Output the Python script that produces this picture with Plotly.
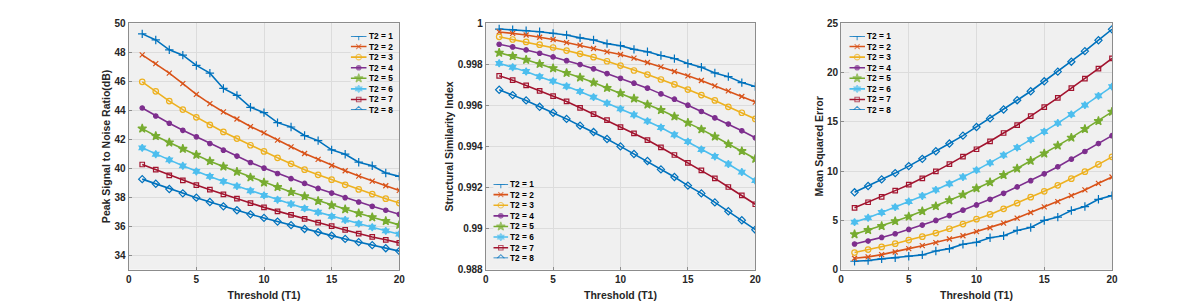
import plotly.graph_objects as go

# ---------------- data ----------------
t1 = [1, 2, 3, 4, 5, 6, 7, 8, 9, 10, 11, 12, 13, 14, 15, 16, 17, 18, 19, 20]
t2_labels = ["T2 = 1", "T2 = 2", "T2 = 3", "T2 = 4", "T2 = 5", "T2 = 6", "T2 = 7", "T2 = 8"]

psnr_1 = [49.27, 48.85, 48.17, 47.80, 47.09, 46.56, 45.50, 45.02, 44.20, 43.83, 43.14, 42.84, 42.25, 41.90, 41.26, 40.96, 40.41, 40.16, 39.66, 39.43]
psnr_2 = [47.82, 47.22, 46.56, 45.83, 45.09, 44.45, 43.88, 43.39, 42.87, 42.43, 41.93, 41.47, 41.01, 40.60, 40.18, 39.82, 39.45, 39.10, 38.78, 38.46]
psnr_3 = [45.96, 45.30, 44.63, 44.04, 43.51, 42.98, 42.50, 42.04, 41.58, 41.15, 40.71, 40.30, 39.89, 39.54, 39.20, 38.85, 38.53, 38.21, 37.89, 37.59]
psnr_4 = [44.15, 43.60, 43.10, 42.61, 42.16, 41.70, 41.24, 40.83, 40.39, 40.00, 39.63, 39.27, 38.94, 38.60, 38.28, 37.96, 37.66, 37.36, 37.09, 36.81]
psnr_5 = [42.73, 42.22, 41.77, 41.33, 40.92, 40.48, 40.11, 39.75, 39.36, 39.01, 38.69, 38.35, 38.05, 37.73, 37.43, 37.16, 36.88, 36.61, 36.35, 36.08]
psnr_6 = [41.40, 40.96, 40.57, 40.16, 39.77, 39.43, 39.08, 38.76, 38.44, 38.12, 37.82, 37.52, 37.22, 36.95, 36.67, 36.42, 36.17, 35.92, 35.67, 35.44]
psnr_7 = [40.25, 39.89, 39.50, 39.15, 38.83, 38.51, 38.19, 37.89, 37.59, 37.29, 37.02, 36.77, 36.49, 36.24, 35.99, 35.73, 35.48, 35.25, 35.05, 34.84]
psnr_8 = [39.24, 38.92, 38.56, 38.26, 37.96, 37.66, 37.36, 37.09, 36.81, 36.56, 36.31, 36.06, 35.80, 35.57, 35.34, 35.11, 34.89, 34.68, 34.47, 34.27]

ssim_1 = [0.99972, 0.99969, 0.99964, 0.99959, 0.99951, 0.99943, 0.99929, 0.99919, 0.99901, 0.99891, 0.99873, 0.99861, 0.99843, 0.99828, 0.99804, 0.99786, 0.99758, 0.99740, 0.99711, 0.99692]
ssim_2 = [0.99958, 0.99951, 0.99943, 0.99932, 0.99921, 0.99906, 0.99893, 0.99877, 0.99861, 0.99848, 0.99830, 0.99809, 0.99788, 0.99765, 0.99744, 0.99721, 0.99695, 0.99671, 0.99643, 0.99616]
ssim_3 = [0.99934, 0.99921, 0.99909, 0.99896, 0.99882, 0.99867, 0.99851, 0.99835, 0.99815, 0.99794, 0.99770, 0.99750, 0.99726, 0.99702, 0.99677, 0.99650, 0.99624, 0.99593, 0.99564, 0.99534]
ssim_4 = [0.99898, 0.99885, 0.99870, 0.99854, 0.99836, 0.99818, 0.99799, 0.99778, 0.99755, 0.99732, 0.99708, 0.99684, 0.99656, 0.99630, 0.99601, 0.99570, 0.99539, 0.99509, 0.99476, 0.99442]
ssim_5 = [0.99856, 0.99840, 0.99822, 0.99802, 0.99781, 0.99758, 0.99736, 0.99711, 0.99685, 0.99659, 0.99633, 0.99604, 0.99577, 0.99546, 0.99515, 0.99483, 0.99448, 0.99411, 0.99377, 0.99340]
ssim_6 = [0.99805, 0.99786, 0.99765, 0.99740, 0.99718, 0.99693, 0.99668, 0.99640, 0.99611, 0.99583, 0.99554, 0.99523, 0.99492, 0.99457, 0.99423, 0.99385, 0.99351, 0.99314, 0.99275, 0.99233]
ssim_7 = [0.99744, 0.99723, 0.99697, 0.99671, 0.99645, 0.99619, 0.99588, 0.99557, 0.99528, 0.99494, 0.99463, 0.99431, 0.99395, 0.99358, 0.99320, 0.99283, 0.99244, 0.99202, 0.99161, 0.99118]
ssim_8 = [0.99676, 0.99650, 0.99624, 0.99593, 0.99564, 0.99534, 0.99501, 0.99470, 0.99436, 0.99400, 0.99363, 0.99329, 0.99288, 0.99251, 0.99209, 0.99171, 0.99127, 0.99084, 0.99040, 0.98994]

mse_1 = [0.84, 0.91, 1.08, 1.18, 1.35, 1.48, 1.88, 2.12, 2.56, 2.76, 3.23, 3.43, 3.97, 4.27, 4.98, 5.32, 5.99, 6.39, 7.13, 7.50]
mse_2 = [1.14, 1.28, 1.51, 1.78, 2.12, 2.42, 2.73, 3.10, 3.43, 3.84, 4.24, 4.71, 5.22, 5.79, 6.36, 6.90, 7.50, 8.08, 8.75, 9.39]
mse_3 = [1.72, 2.02, 2.29, 2.62, 2.99, 3.33, 3.70, 4.14, 4.61, 5.11, 5.59, 6.16, 6.73, 7.34, 7.94, 8.55, 9.22, 9.93, 10.67, 11.44]
mse_4 = [2.59, 2.89, 3.26, 3.63, 4.07, 4.51, 4.98, 5.48, 6.02, 6.56, 7.13, 7.74, 8.38, 9.02, 9.72, 10.43, 11.20, 11.98, 12.79, 13.59]
mse_5 = [3.57, 4.00, 4.41, 4.91, 5.38, 5.92, 6.43, 7.03, 7.60, 8.24, 8.85, 9.59, 10.26, 11.04, 11.78, 12.58, 13.39, 14.27, 15.07, 16.01]
mse_6 = [4.81, 5.25, 5.79, 6.33, 6.90, 7.47, 8.08, 8.71, 9.39, 10.09, 10.83, 11.61, 12.38, 13.19, 14.00, 14.87, 15.75, 16.69, 17.63, 18.57]
mse_7 = [6.26, 6.83, 7.37, 8.01, 8.61, 9.25, 9.96, 10.70, 11.47, 12.21, 13.02, 13.86, 14.67, 15.58, 16.49, 17.43, 18.41, 19.38, 20.39, 21.43]
mse_8 = [7.84, 8.48, 9.15, 9.79, 10.50, 11.24, 12.01, 12.79, 13.59, 14.47, 15.34, 16.25, 17.19, 18.10, 19.11, 20.09, 21.10, 22.17, 23.28, 24.39]

psnr_ticks = [34, 36, 38, 40, 42, 44, 46, 48, 50]
ssim_ticks = [0.988, 0.990, 0.992, 0.994, 0.996, 0.998, 1.0]
ssim_tick_text = ["0.988", "0.99", "0.992", "0.994", "0.996", "0.998", "1"]
mse_ticks = [0, 5, 10, 15, 20, 25]
x_ticks = [0, 5, 10, 15, 20]

# ---------------- styling ----------------
colors = ["#0072BD", "#D95319", "#EDB120", "#7E2F8E", "#77AC30", "#4DBEEE", "#A2142F", "#0072BD"]
symbols = ["cross-thin-open", "x-thin-open", "circle-open", "circle", "star", "hexagram", "square-open", "diamond-open"]
msizes = [6, 5, 5.5, 4.5, 6.5, 5.5, 4.5, 5.5]

W, H = 1196, 304
FONT = "Liberation Sans, Arial, sans-serif"
TXT = "#262626"


def px_x(a, b):
    return [a / W, b / W]


def px_y(top, bottom):
    return [1 - bottom / H, 1 - top / H]


psnr = [psnr_1, psnr_2, psnr_3, psnr_4, psnr_5, psnr_6, psnr_7, psnr_8]
ssim = [ssim_1, ssim_2, ssim_3, ssim_4, ssim_5, ssim_6, ssim_7, ssim_8]
mse = [mse_1, mse_2, mse_3, mse_4, mse_5, mse_6, mse_7, mse_8]

fig = go.Figure()

panels = [("x", "y", psnr), ("x2", "y2", ssim), ("x3", "y3", mse)]
for xa, ya, series in panels:
    for i, vals in enumerate(series):
        fig.add_trace(go.Scatter(
            x=t1, y=vals, xaxis=xa, yaxis=ya, mode="lines+markers",
            name=t2_labels[i], showlegend=False,
            line=dict(color=colors[i], width=1.6),
            marker=dict(symbol=symbols[i], size=msizes[i], color=colors[i],
                        line=dict(color=colors[i], width=1.2)),
        ))

# compact MATLAB-like legends drawn on small auxiliary axes (one row per series)
legend_axes = [("x4", "y4"), ("x5", "y5"), ("x6", "y6")]
rows = list(range(1, len(t2_labels) + 1))
annotations = []
for xa, ya in legend_axes:
    for i, lab in enumerate(t2_labels):
        fig.add_trace(go.Scatter(
            x=[0, 0.5, 1], y=[rows[i]] * 3, xaxis=xa, yaxis=ya, mode="lines+markers",
            showlegend=False, hoverinfo="skip",
            line=dict(color=colors[i], width=1.6),
            marker=dict(symbol=symbols[i], size=[0, msizes[i], 0], color=colors[i],
                        line=dict(color=colors[i], width=1.1)),
        ))
        annotations.append(dict(
            x=1, y=rows[i], xref=xa, yref=ya, text="<b>%s</b>" % lab, showarrow=False,
            xanchor="left", yanchor="middle", xshift=0,
            font=dict(family=FONT, size=8.3, color="#000000"),
        ))

axis_common = dict(
    showline=True, mirror=True, linecolor="#8C8C8C", linewidth=1,
    ticks="inside", ticklen=3, tickcolor="#8C8C8C", tickwidth=1,
    showgrid=True, gridcolor="#DCDCDC", gridwidth=1, zeroline=False,
    tickfont=dict(family=FONT, size=10, color=TXT),
    automargin=False,
)

xtitle = dict(text="<b>Threshold (T1)</b>", font=dict(family=FONT, size=10.5, color=TXT), standoff=8)


def ytitle(text):
    return dict(text="<b>%s</b>" % text, font=dict(family=FONT, size=10.5, color=TXT), standoff=1)


layout = dict(
    width=W, height=H, margin=dict(l=0, r=0, t=0, b=0),
    paper_bgcolor="white", plot_bgcolor="#F0F0F0",
    font=dict(family=FONT, color=TXT),
    showlegend=False,
    annotations=annotations,
    xaxis=dict(domain=px_x(128.7, 399.3), range=[0, 20], tickvals=x_ticks,
               ticktext=["<b>%d</b>" % v for v in x_ticks], title=xtitle, anchor="y", **axis_common),
    yaxis=dict(domain=px_y(23.3, 269.5), range=[33, 50], tickvals=psnr_ticks,
               ticktext=["<b>%d</b>" % v for v in psnr_ticks], anchor="x",
               title=ytitle("Peak Signal to Noise Ratio(dB)"), **axis_common),
    xaxis2=dict(domain=px_x(485.7, 755.3), range=[0, 20], tickvals=x_ticks,
                ticktext=["<b>%d</b>" % v for v in x_ticks], title=xtitle, anchor="y2", **axis_common),
    yaxis2=dict(domain=px_y(23.3, 269.5), range=[0.988, 1.0], tickvals=ssim_ticks,
                ticktext=["<b>%s</b>" % v for v in ssim_tick_text], anchor="x2",
                title=ytitle("Structural Similarity Index"), **axis_common),
    xaxis3=dict(domain=px_x(841.0, 1112.0), range=[0, 20], tickvals=x_ticks,
                ticktext=["<b>%d</b>" % v for v in x_ticks], title=xtitle, anchor="y3", **axis_common),
    yaxis3=dict(domain=px_y(23.3, 269.5), range=[0, 25], tickvals=mse_ticks,
                ticktext=["<b>%d</b>" % v for v in mse_ticks], anchor="x3",
                title=ytitle("Mean Squared Error"), **axis_common),
)

hidden = dict(visible=False, showgrid=False, zeroline=False, fixedrange=True)
leg_boxes = [((350.7, 366.7), (36.0, 110.0)), ((493.3, 508.3), (184.0, 258.3)), ((849.3, 865.0), (36.0, 110.0))]
for k, ((xa0, xa1), (ya0, ya1)) in enumerate(leg_boxes):
    n = k + 4
    layout["xaxis%d" % n] = dict(domain=px_x(xa0, xa1), range=[0, 1], anchor="y%d" % n, **hidden)
    layout["yaxis%d" % n] = dict(domain=px_y(ya0, ya1), range=[len(t2_labels), 1], anchor="x%d" % n, **hidden)

fig.update_layout(**layout)
fig.write_html("out.html", config={"displayModeBar": False},
               post_script="document.body.style.margin='0px';")
